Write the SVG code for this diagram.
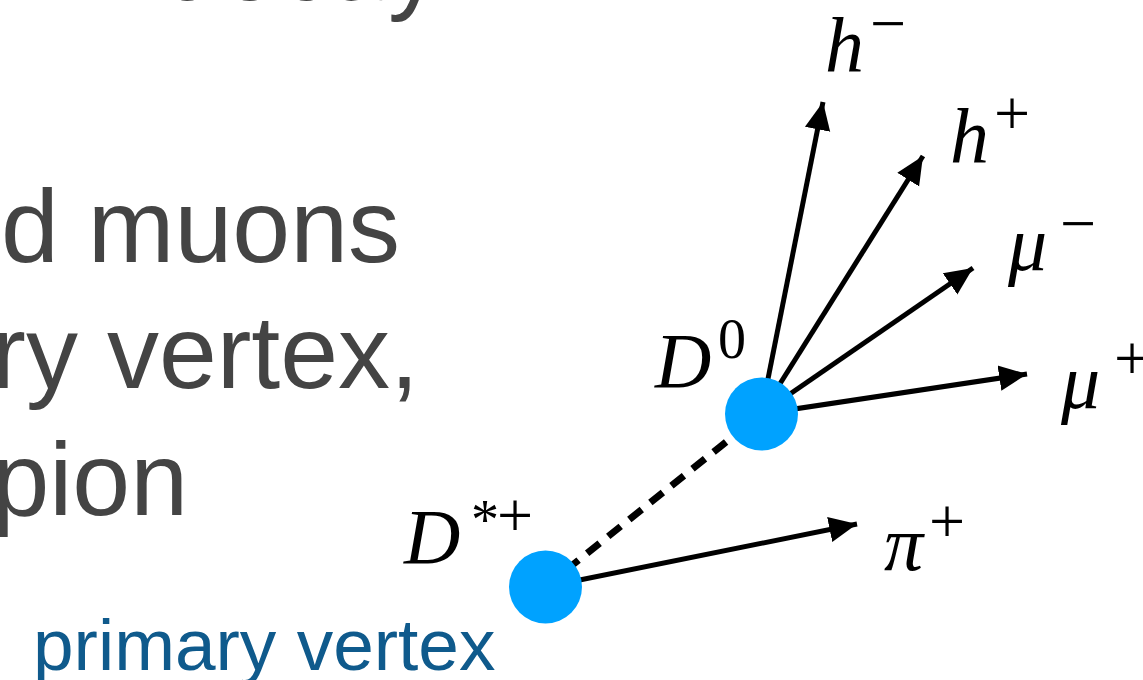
<svg xmlns="http://www.w3.org/2000/svg" width="1143" height="680" viewBox="0 0 1143 680">
<style>
.body{font-family:"Liberation Sans",Arial,sans-serif;font-size:104px;fill:#444444}
.pv{font-family:"Liberation Sans",Arial,sans-serif;font-size:73px;fill:#0f5a8c}
.m{font-family:"Liberation Serif","Times New Roman",serif;font-style:italic;font-size:78px;fill:#000}
.sup{font-family:"Liberation Serif","Times New Roman",serif;font-style:normal;font-size:64px;fill:#000}
.dig{font-family:"Liberation Serif","Times New Roman",serif;font-style:normal;font-size:56px;fill:#000}
.trk{stroke:#000;stroke-width:5;fill:none}
.dash{stroke:#000;stroke-width:7;fill:none;stroke-dasharray:16 11}
.vtx{fill:#00a2ff}
</style>
<defs>
<marker id="ah" markerUnits="userSpaceOnUse" markerWidth="30" markerHeight="30" viewBox="-26 -13 28 26" refX="0" refY="0" orient="auto">
<path d="M0,0 L-26,-12 L-26,12 Z" fill="#000"/>
</marker>
</defs>
<g id="slide-text">
<text class="body" x="440" y="0" text-anchor="end">decay</text>
<text class="body" x="400" y="262" text-anchor="end">d muons</text>
<text class="body" x="419" y="388" text-anchor="end">ry vertex,</text>
<text class="body" x="188" y="515" text-anchor="end">pion</text>
</g>
<g id="connectors">
<line class="dash" x1="545" y1="587" x2="761" y2="414"/>
<line class="trk" x1="545" y1="587" x2="857" y2="524" marker-end="url(#ah)"/>
<line class="trk" x1="761" y1="414" x2="823" y2="102" marker-end="url(#ah)"/>
<line class="trk" x1="761" y1="414" x2="923" y2="156" marker-end="url(#ah)"/>
<line class="trk" x1="761" y1="414" x2="973" y2="268" marker-end="url(#ah)"/>
<line class="trk" x1="761" y1="414" x2="1027" y2="374" marker-end="url(#ah)"/>
</g>
<g id="primary-vertex">
<circle class="vtx" cx="545.5" cy="587" r="36.5"/>
<text class="pv" x="33" y="670">primary vertex</text>
</g>
<g id="d-star">
<text class="m" x="404" y="563">D</text>
<text class="dig" x="471" y="539">*</text>
<text class="sup" x="497" y="537">+</text>
</g>
<g id="d0">
<circle class="vtx" cx="761.5" cy="414" r="36.5"/>
<text class="m" x="655" y="387">D</text>
<text class="dig" x="718" y="358">0</text>
</g>
<g id="h-minus">
<text class="m" x="825" y="72">h</text>
<text class="sup" x="870" y="45">−</text>
</g>
<g id="h-plus">
<text class="m" x="950" y="163">h</text>
<text class="sup" x="994" y="135">+</text>
</g>
<g id="mu-minus">
<text class="m" x="1008" y="270">μ</text>
<text class="sup" x="1060" y="245">−</text>
</g>
<g id="mu-plus">
<text class="m" x="1061" y="408">μ</text>
<text class="sup" x="1114" y="380">+</text>
</g>
<g id="pi-plus">
<text class="m" x="884" y="570">π</text>
<text class="sup" x="929" y="543">+</text>
</g>
</svg>
